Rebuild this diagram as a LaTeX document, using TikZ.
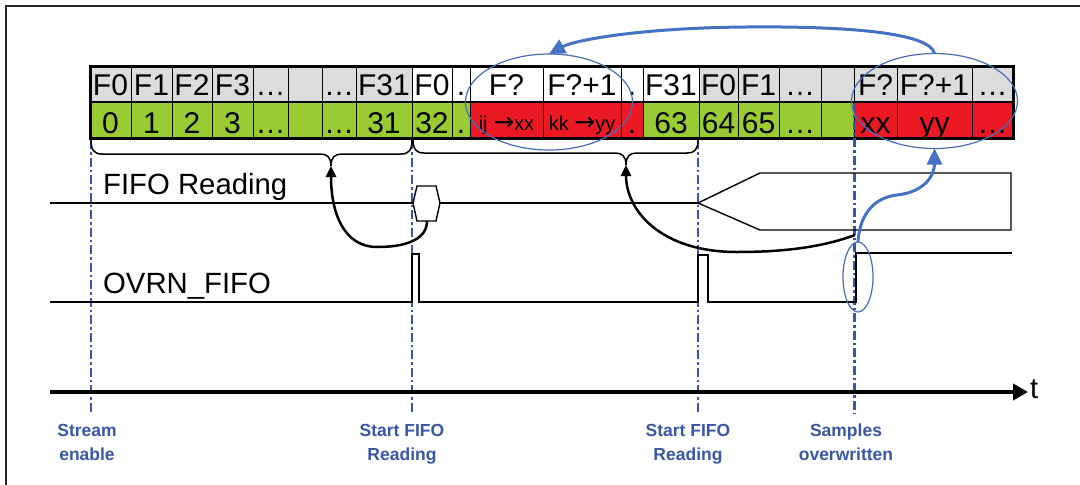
\documentclass[tikz,border=0pt]{standalone}
\usepackage{fontspec}
\setmainfont{Liberation Sans}
\newfontfamily\arrowfont{DejaVu Sans}
\usetikzlibrary{arrows.meta,shapes.geometric}
\definecolor{cgray}{RGB}{220,220,220}
\definecolor{cgreen}{RGB}{153,204,51}
\definecolor{cred}{RGB}{235,25,35}
\definecolor{cblue}{RGB}{58,86,168}
\definecolor{eblue}{RGB}{74,108,190}
\definecolor{ablue}{RGB}{68,114,196}
\newcommand{\smallarrow}{{\arrowfont\fontsize{25}{25}\selectfont →}}
\begin{document}
\begin{tikzpicture}[x=1pt,y=-1pt,
  cellbase/.style={draw=black, line width=0.9pt, inner sep=0pt, outer sep=0pt,
    minimum height=36pt, font=\fontsize{30}{36}\selectfont},
  cTG/.style={cellbase, fill=cgray, text height=24pt, text depth=2pt},
  cTW/.style={cellbase, fill=white, text height=24pt, text depth=2pt},
  cBG/.style={cellbase, fill=cgreen, text height=27pt, text depth=1pt},
  cBR/.style={cellbase, fill=cred, text height=27pt, text depth=1pt},
  cBRs/.style={cBR, font=\fontsize{20}{24}\selectfont, text height=21pt, text depth=1pt},
  sig/.style={line width=2.2pt, line join=miter},
  thinshape/.style={line width=1.4pt},
  bracestyle/.style={line width=1.5pt},
  ddline/.style={draw=cblue, line width=2.2pt, dash pattern=on 9pt off 3pt on 2.5pt off 3pt},
  bluering/.style={draw=eblue, line width=1.2pt, ellipse, inner sep=0pt, outer sep=0pt},
  karrow/.style={line width=2.5pt, -{Triangle[length=11pt,width=10pt]}},
  barrow/.style={draw=ablue, line width=3pt, -{Triangle[length=16pt,width=15pt]}},
  siglabel/.style={anchor=base west, inner sep=0pt, font=\fontsize{29.3}{35}\selectfont},
  evlabel/.style={anchor=north, inner sep=0pt, align=center, text=cblue,
    font=\bfseries\fontsize{17.5}{24}\selectfont}
]
\useasboundingbox (0,0) rectangle (1080,485);

% frame
\draw[line width=1.8pt, black!85] (6,485) -- (6,6) -- (1080,6);

% table, top row
\foreach \a/\b/\s/\t [count=\i] in {
  90/131/cTG/F0, 131/172/cTG/F1, 172/212/cTG/F2, 212/253/cTG/F3,
  253/288/cTG/…, 288/322/cTG/{}, 322/356/cTG/…, 356/412/cTG/F31,
  412/452/cTW/F0, 452/470/cTW/., 470/543/cTW/F?, 543/621/cTW/F?+1,
  621/643/cTW/., 643/699/cTW/F31, 699/738/cTG/F0, 738/779/cTG/F1,
  779/821/cTG/…, 821/854/cTG/{}, 854/897/cTG/F?, 897/972/cTG/F?+1,
  972/1013/cTG/…}
  \node[\s, minimum width={(\b-\a)*1pt}] (t\i) at ({(\a+\b)/2},84) {\t};

% table, bottom row
\foreach \a/\b/\s/\t [count=\i] in {
  90/131/cBG/0, 131/172/cBG/1, 172/212/cBG/2, 212/253/cBG/3,
  253/288/cBG/…, 288/322/cBG/{}, 322/356/cBG/…, 356/412/cBG/31,
  412/452/cBG/32, 452/470/cBG/., 470/543/cBRs/{ij \smallarrow xx}, 543/621/cBRs/{kk \smallarrow yy},
  621/643/cBR/., 643/699/cBG/63, 699/738/cBG/64, 738/779/cBG/65,
  779/821/cBG/…, 821/854/cBG/{}, 854/897/cBR/xx, 897/972/cBR/yy,
  972/1013/cBR/…}
  \node[\s, minimum width={(\b-\a)*1pt}] (b\i) at ({(\a+\b)/2},120) {\t};

\draw[line width=1.5pt] (t1.south west) -- (t21.south east);
\draw[line width=3pt] (t1.north west) rectangle (b21.south east);

% vertical event lines
\coordinate (d1a) at (91,140);  \coordinate (d1b) at (91,413);
\coordinate (d2a) at (412,140); \coordinate (d2b) at (412,413);
\coordinate (d3a) at (698,140); \coordinate (d3b) at (698,413);
\coordinate (d4a) at (854.5,103); \coordinate (d4b) at (854.5,413);
\draw[ddline] (d1a) -- (d1b);
\draw[ddline] (d2a) -- (d2b);
\draw[ddline] (d3a) -- (d3b);
\draw[ddline] (d4a) -- (d4b);

% braces
\coordinate (b1tip) at (331,166);
\coordinate (b2tip) at (626,165);
\draw[bracestyle] (91,140) .. controls (91,150) and (94,154) .. (102,154) -- (320,154)
  .. controls (327,154) and (331,157) .. (b1tip)
  .. controls (331,157) and (335,154) .. (342,154) -- (401,154)
  .. controls (409,154) and (412,150) .. (412,140);
\draw[bracestyle] (413,140) .. controls (413,149) and (416,153) .. (424,153) -- (615,153)
  .. controls (622,153) and (626,156) .. (b2tip)
  .. controls (626,156) and (630,153) .. (637,153) -- (687,153)
  .. controls (695,153) and (698,149) .. (698,140);

% signal labels
\node[siglabel] (lfifo) at (103,194) {FIFO Reading};
\node[siglabel] (lovrn) at (103,293) {OVRN\_FIFO};

% FIFO reading signal
\coordinate (fs) at (50,203);
\coordinate (hexL) at (413,203);
\coordinate (hexR) at (440,203);
\coordinate (hexB) at (427,221);
\coordinate (tap) at (698,203);
\draw[sig] (fs) -- (hexL);
\draw[sig] (hexR) -- (tap);
\draw[thinshape] (hexL) -- (417,186) -- (436,186) -- (hexR) -- (436,221) -- (417,221) -- cycle;
\draw[thinshape] (tap) -- (760,173) -- (1011,173) -- (1011,230) -- (760,230) -- cycle;

% OVRN_FIFO signal
\draw[sig, line width=2.6pt] (50,302) -- (412,302) -- (412,254) -- (419,254) -- (419,302)
  -- (698,302) -- (698,255) -- (708,255) -- (708,302) -- (856,302) -- (856,253) -- (1012,253);

% time axis
\coordinate (ax0) at (50,392);
\coordinate (ax1) at (1028,392);
\draw[line width=3.8pt, -{Triangle[length=15pt,width=16pt]}] (ax0) -- (ax1);
\node[anchor=west, inner sep=0pt, font=\fontsize{29}{35}\selectfont] (tlab) at (1030,389) {t};

% event labels
\node[evlabel] (ev1) at (87,424) {Stream\\enable};
\node[evlabel] (ev2) at (402,424) {Start FIFO\\Reading};
\node[evlabel] (ev3) at (688,424) {Start FIFO\\Reading};
\node[evlabel] (ev4) at (846,424) {Samples\\overwritten};

% blue rings
\node[bluering, minimum width=167pt, minimum height=96pt] (e1) at (549,102) {};
\node[bluering, minimum width=166pt, minimum height=95pt] (e2) at (934.5,101) {};
\node[bluering, minimum width=30pt, minimum height=70pt] (e3) at (858,277) {};

% black arrows
\coordinate (a2s) at (855,235);
\draw[karrow] (hexB) .. controls (427,240) and (405,247) .. (377,247)
  .. controls (345,247) and (331,215) .. (b1tip);
\draw[karrow] (a2s) .. controls (820,248) and (780,252) .. (737,252)
  .. controls (660,252) and (626,210) .. (b2tip);

% blue arrows
\draw[barrow] (e2.north) .. controls (930,33) and (850,26) .. (745,27)
  .. controls (640,28) and (575,40) .. (e1.north);
\draw[barrow] (e3.north) .. controls (860,210) and (878,197) .. (897,195)
  .. controls (925,192) and (934.5,175) .. (e2.south);
\end{tikzpicture}
\end{document}
